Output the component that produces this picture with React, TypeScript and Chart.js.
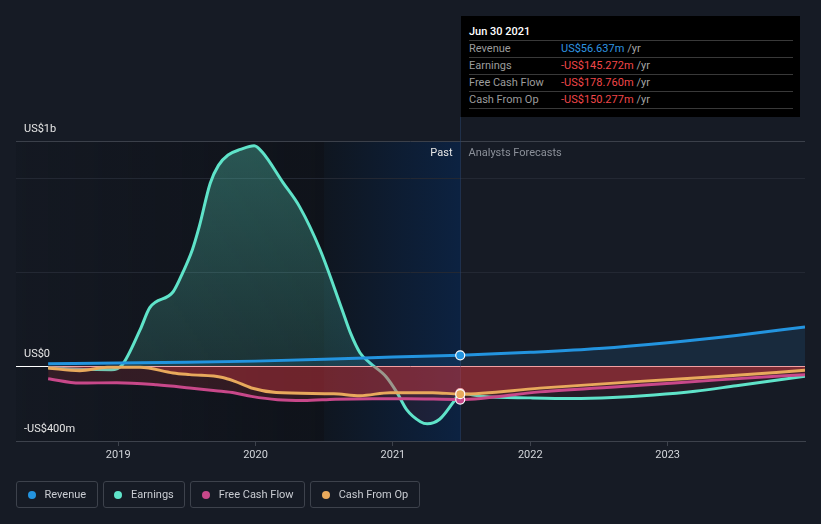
import React, { useEffect, useRef } from 'react';
import { Chart, registerables } from 'chart.js';

Chart.register(...registerables);

// ---- data (decimal years / US$ millions) ----
const X_MIN = 2018.256;
const X_MAX = 2024.0;
const PAST_START = 2020.5;
const PAST_END = 2021.49;
const yearTicks = [2019, 2020, 2021, 2022, 2023];
const yGridValues = [-400, 0, 500, 1000, 1200];
const yTickLabels: Record<string, string> = { '1200': 'US$1b', '0': 'US$0', '-400': '-US$400m' };

const revenueDates = [2018.49, 2019.0, 2019.5, 2020.0, 2020.5, 2021.0, 2021.49, 2022.0, 2022.5, 2023.0, 2023.5, 2024.0];
const revenueValues = [12, 16, 20, 26, 36, 48, 57, 73, 93, 124, 163, 208];

const earningsDates = [2018.49, 2018.75, 2018.95, 2019.03, 2019.16, 2019.23, 2019.4, 2019.47, 2019.54, 2019.59, 2019.67, 2019.73, 2019.8, 2019.89, 2019.99, 2020.05, 2020.2, 2020.32, 2020.47, 2020.63, 2020.69, 2020.76, 2020.83, 2020.95, 2021.03, 2021.1, 2021.2, 2021.25, 2021.34, 2021.44, 2021.49, 2021.66, 2022.0, 2022.3, 2022.6, 2022.9, 2023.2, 2023.5, 2024.0];
const earningsValues = [-9, -18, -20, 7, 194, 311, 396, 498, 620, 743, 975, 1070, 1125, 1155, 1175, 1140, 978, 850, 620, 300, 178, 71, 18, -57, -142, -233, -297, -308, -284, -193, -145, -163, -170, -173, -168, -155, -135, -105, -55];

const fcfDates = [2018.49, 2018.72, 2018.99, 2019.28, 2019.52, 2019.71, 2019.85, 2019.97, 2020.16, 2020.35, 2020.58, 2020.85, 2021.1, 2021.49, 2022.07, 2022.8, 2023.37, 2024.0];
const fcfValues = [-68, -91, -89, -100, -117, -132, -144, -162, -180, -184, -177, -174, -174, -179, -138, -103, -74, -46];

const cfoDates = [2018.49, 2018.72, 2018.92, 2019.16, 2019.4, 2019.52, 2019.76, 2019.85, 2019.97, 2020.15, 2020.57, 2020.76, 2020.98, 2021.29, 2021.49, 2022.07, 2022.8, 2023.37, 2024.0];
const cfoValues = [-11, -25, -7, -7, -37, -46, -61, -82, -117, -141, -148, -158, -142, -142, -150, -118, -82, -56, -23];

const seriesNames = ['Revenue', 'Earnings', 'Free Cash Flow', 'Cash From Op'];
const seriesColors = ['#2394df', '#5fe3c9', '#c8488a', '#e8a95c'];
const tooltipTitle = 'Jun 30 2021';
const tooltipValues = ['US$56.637m', '-US$145.272m', '-US$178.760m', '-US$150.277m'];

const FONT = "Roboto, 'DejaVu Sans', sans-serif";
const RED = '228,60,66';

const bgPlugin = {
  id: 'bgRegions',
  beforeDraw(chart: any) {
    const { ctx, chartArea, scales } = chart;
    const x = scales.x;
    const x0 = chartArea.left;
    const xs = x.getPixelForValue(PAST_START);
    const xe = x.getPixelForValue(PAST_END);
    ctx.save();
    const g1 = ctx.createLinearGradient(x0, 0, xs, 0);
    g1.addColorStop(0, 'rgba(6,8,12,0.10)');
    g1.addColorStop(1, 'rgba(6,8,12,0.42)');
    ctx.fillStyle = g1;
    ctx.fillRect(x0, chartArea.top, xs - x0, chartArea.bottom - chartArea.top);
    const g2 = ctx.createLinearGradient(xs, 0, xe, 0);
    g2.addColorStop(0, '#0f1620');
    g2.addColorStop(1, '#0c2241');
    ctx.fillStyle = g2;
    ctx.fillRect(xs, chartArea.top, xe - xs, chartArea.bottom - chartArea.top);
    ctx.restore();
  },
  beforeDatasetsDraw(chart: any) {
    const { ctx, chartArea, scales } = chart;
    const xe = Math.round(scales.x.getPixelForValue(PAST_END)) + 0.5;
    ctx.save();
    ctx.strokeStyle = 'rgba(40,66,105,0.55)';
    ctx.lineWidth = 1;
    ctx.beginPath();
    ctx.moveTo(xe, 117);
    ctx.lineTo(xe, chartArea.bottom);
    ctx.stroke();
    ctx.font = `11px ${FONT}`;
    ctx.textBaseline = 'middle';
    ctx.textAlign = 'right';
    ctx.fillStyle = '#e6e6e6';
    ctx.fillText('Past', xe - 8, chartArea.top + 12);
    ctx.textAlign = 'left';
    ctx.fillStyle = '#8b9099';
    ctx.fillText('Analysts Forecasts', xe + 8, chartArea.top + 12);
    ctx.restore();
  },
};

function points(dates: number[], values: number[]) {
  return dates.map((d, i) => ({ x: d, y: values[i] }));
}

function makeDataset(i: number, dates: number[], values: number[], order: number, fill: any, bg: any) {
  const color = seriesColors[i];
  return {
    label: seriesNames[i],
    data: points(dates, values),
    borderColor: color,
    backgroundColor: bg,
    borderWidth: 3,
    pointRadius: (c: any) => (c.raw && c.raw.x === PAST_END ? 4.5 : 0),
    pointHoverRadius: 0,
    pointBackgroundColor: color,
    pointBorderColor: '#ffffff',
    pointBorderWidth: 1.2,
    cubicInterpolationMode: 'monotone',
    order,
    fill,
  };
}

export default function App() {
  const canvasRef = useRef<HTMLCanvasElement | null>(null);

  useEffect(() => {
    document.body.style.margin = '0';
    const canvas = canvasRef.current;
    if (!canvas) return;
    const earningsGradient = (c: any) => {
      const { chart } = c;
      const area = chart.chartArea;
      if (!area) return 'rgba(95,227,201,0.22)';
      const zero = chart.scales.y.getPixelForValue(0);
      const g = chart.ctx.createLinearGradient(0, area.top, 0, zero);
      g.addColorStop(0, 'rgba(95,227,201,0.32)');
      g.addColorStop(1, 'rgba(95,227,201,0.15)');
      return g;
    };
    const chart = new Chart(canvas, {
      type: 'line',
      data: {
        datasets: [
          makeDataset(0, revenueDates, revenueValues, 0, { target: 'origin', above: 'rgba(35,148,223,0.13)', below: 'rgba(0,0,0,0)' }, 'rgba(35,148,223,0.13)'),
          makeDataset(1, earningsDates, earningsValues, 3, { target: 'origin', below: `rgba(${RED},0.08)` }, earningsGradient),
          makeDataset(2, fcfDates, fcfValues, 2, { target: 'origin', above: `rgba(${RED},0.16)`, below: `rgba(${RED},0.16)` }, `rgba(${RED},0.16)`),
          makeDataset(3, cfoDates, cfoValues, 1, { target: 'origin', above: `rgba(${RED},0.34)`, below: `rgba(${RED},0.34)` }, `rgba(${RED},0.34)`),
        ] as any,
      },
      options: {
        animation: false,
        responsive: false,
        devicePixelRatio: 1,
        events: [],
        layout: { padding: { left: 0, right: 16, top: 141, bottom: 58.8 } },
        plugins: {
          legend: { display: false },
          tooltip: { enabled: false },
        },
        scales: {
          x: {
            type: 'linear',
            min: X_MIN,
            max: X_MAX,
            afterBuildTicks: (s: any) => {
              s.ticks = yearTicks.map((v) => ({ value: v }));
            },
            grid: { drawOnChartArea: false, drawTicks: true, tickLength: 5, color: '#3d424c' },
            border: { display: true, color: '#3d424c' },
            ticks: {
              color: '#d2d5da',
              font: { size: 11, family: FONT },
              padding: 3,
              maxRotation: 0,
              autoSkip: false,
              callback: (v: any) => String(v),
            },
          },
          y: {
            type: 'linear',
            min: -400,
            max: 1200,
            position: 'left',
            afterBuildTicks: (s: any) => {
              s.ticks = yGridValues.map((v) => ({ value: v }));
            },
            grid: {
              drawTicks: false,
              lineWidth: 1,
              color: (c: any) => {
                const v = c.tick && c.tick.value;
                if (v === 0) return '#ffffff';
                if (v === 1200) return '#3b404a';
                if (v === -400) return 'rgba(0,0,0,0)';
                return '#232833';
              },
            },
            border: { display: false },
            ticks: {
              mirror: true,
              padding: 8,
              labelOffset: -12,
              color: '#e6e6e6',
              font: { size: 11, family: FONT },
              callback: (v: any) => yTickLabels[String(v)] ?? '',
            },
          },
        },
      } as any,
      plugins: [bgPlugin],
    });
    return () => chart.destroy();
  }, []);

  return (
    <div
      style={{
        position: 'fixed',
        left: 0,
        top: 0,
        width: 821,
        height: 524,
        background: '#161b25',
        fontFamily: FONT,
        overflow: 'hidden',
      }}
    >
      <canvas ref={canvasRef} width={821} height={524} style={{ position: 'absolute', left: 0, top: 0, display: 'block' }} />
      <div
        style={{
          position: 'absolute',
          left: 461,
          top: 16,
          width: 339,
          height: 101,
          background: '#000',
        }}
      >
        <div style={{ position: 'absolute', left: 8, top: 9, fontSize: 11, lineHeight: '13px', color: '#ffffff', fontWeight: 500 }}>
          {tooltipTitle}
        </div>
        <div style={{ position: 'absolute', left: 8, top: 24, width: 324 }}>
          {seriesNames.map((n, i) => (
            <div
              key={n}
              style={{
                height: 16,
                borderTop: '1px solid #393939',
                borderBottom: i === seriesNames.length - 1 ? '1px solid #393939' : 'none',
                display: 'flex',
                alignItems: 'center',
                fontSize: 11,
                lineHeight: '16px',
              }}
            >
              <span style={{ width: 92, color: '#9c9c9c' }}>{n}</span>
              <span style={{ color: i === 0 ? '#2f95e0' : '#f0474a' }}>{tooltipValues[i]}</span>
              <span style={{ color: '#a5a5a5', marginLeft: 3 }}>/yr</span>
            </div>
          ))}
        </div>
      </div>
      <div style={{ position: 'absolute', left: 16, top: 481, display: 'flex', gap: 5 }}>
        {seriesNames.map((n, i) => (
          <div
            key={n}
            style={{
              height: 25,
              border: '1px solid #3d424c',
              borderRadius: 3,
              display: 'flex',
              alignItems: 'center',
              padding: '0 10.5px 0 10.5px',
              fontSize: 11,
              color: '#c9ccd2',
            }}
          >
            <span
              style={{
                width: 8,
                height: 8,
                borderRadius: '50%',
                background: seriesColors[i],
                marginRight: 9,
                display: 'inline-block',
              }}
            />
            {n}
          </div>
        ))}
      </div>
    </div>
  );
}
